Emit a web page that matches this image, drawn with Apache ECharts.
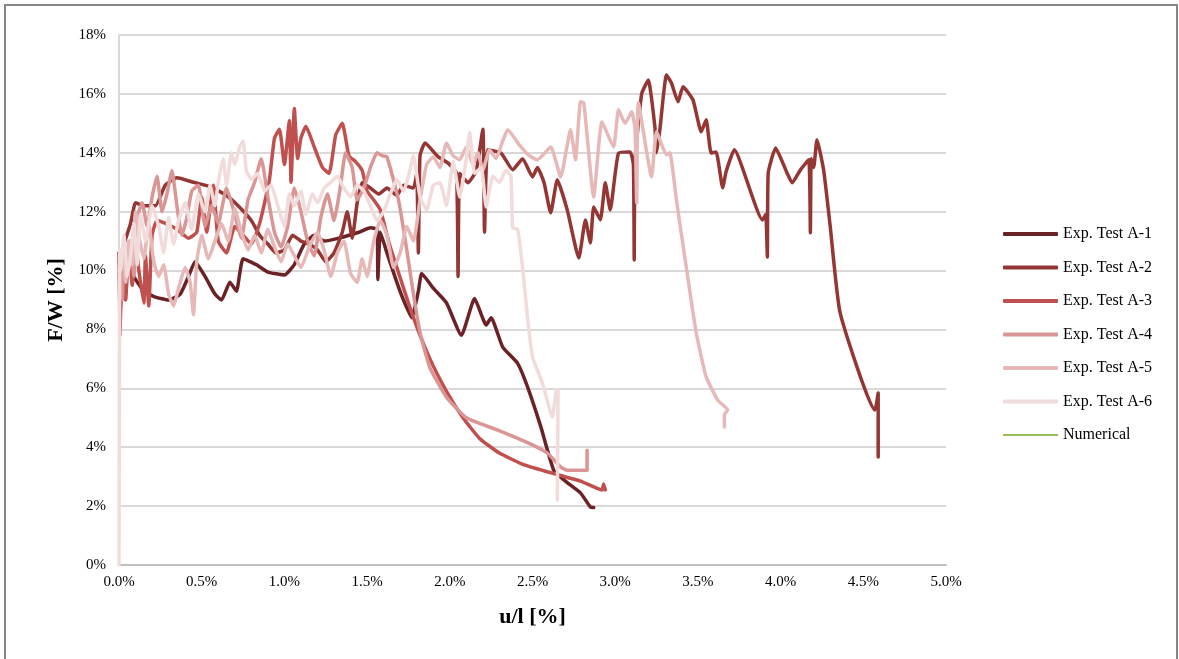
<!DOCTYPE html>
<html>
<head>
<meta charset="utf-8">
<script src="https://cdn.jsdelivr.net/npm/echarts@6/dist/echarts.min.js"></script>
<style>
html, body { margin: 0; padding: 0; background: #fff; }
#main { width: 1179px; height: 659px; }
</style>
</head>
<body>
<div id="main"></div>
<script>
// u/l [%] , F/W [%] pairs
var seriesNames = ['Exp. Test A-1', 'Exp. Test A-2', 'Exp. Test A-3', 'Exp. Test A-4', 'Exp. Test A-5', 'Exp. Test A-6', 'Numerical'];

var testA1 = [[0,10.6],[0.02,10.1],[0.05,10.4],[0.09,9.8],[0.15,9.3],[0.22,9.1],[0.3,9.0],[0.37,9.2],[0.42,9.8],[0.46,10.3],[0.52,9.8],[0.58,9.2],[0.62,9.0],[0.67,9.6],[0.71,9.3],[0.75,10.4],[0.83,10.2],[0.9,9.95],[1.0,9.85],[1.06,10.2],[1.12,10.9],[1.18,11.2],[1.24,11.0],[1.33,11.1],[1.45,11.3],[1.52,11.45],[1.56,11.4],[1.565,9.7],[1.58,11.3],[1.62,10.6],[1.68,9.6],[1.72,9.0],[1.77,8.4],[1.81,9.3],[1.83,9.9],[1.9,9.4],[1.98,8.9],[2.07,7.8],[2.15,9.05],[2.22,8.15],[2.25,8.4],[2.32,7.4],[2.41,6.85],[2.47,6.05],[2.55,4.7],[2.63,3.2],[2.71,2.8],[2.79,2.45],[2.85,1.97],[2.87,1.95]];

var testA2 = [[0,10.3],[0.03,10.9],[0.07,11.6],[0.1,12.3],[0.15,12.2],[0.22,12.2],[0.28,12.9],[0.35,13.15],[0.45,13.0],[0.55,12.85],[0.65,12.55],[0.72,12.2],[0.8,11.7],[0.85,11.2],[0.9,10.9],[0.95,10.6],[1.0,10.7],[1.05,11.2],[1.1,11.0],[1.15,10.9],[1.2,10.7],[1.25,10.3],[1.3,10.6],[1.35,11.3],[1.38,12.0],[1.41,11.1],[1.44,12.3],[1.47,12.98],[1.52,12.8],[1.57,12.6],[1.62,12.8],[1.68,12.55],[1.72,12.9],[1.78,12.8],[1.8,13.3],[1.81,10.6],[1.82,13.9],[1.85,14.33],[1.93,13.86],[1.99,13.65],[2.04,13.3],[2.05,9.8],[2.06,13.3],[2.11,12.98],[2.16,13.4],[2.2,14.8],[2.21,11.3],[2.23,14.1],[2.31,13.99],[2.38,13.42],[2.44,13.8],[2.5,13.18],[2.53,13.5],[2.57,12.98],[2.61,11.96],[2.65,13.08],[2.71,12.06],[2.78,10.43],[2.82,11.72],[2.85,10.94],[2.87,12.16],[2.91,11.72],[2.94,12.98],[2.97,12.06],[3.02,13.99],[3.09,14.03],[3.11,13.6],[3.115,10.36],[3.12,13.7],[3.16,16.0],[3.2,16.47],[3.24,14.88],[3.25,14.0],[3.27,14.78],[3.31,16.64],[3.34,16.37],[3.38,15.73],[3.41,16.24],[3.47,15.8],[3.52,14.71],[3.55,15.12],[3.58,13.99],[3.61,14.03],[3.65,12.81],[3.67,13.35],[3.72,14.1],[3.89,11.72],[3.91,11.9],[3.92,10.46],[3.925,13.3],[3.97,14.16],[4.04,13.3],[4.07,12.98],[4.12,13.42],[4.17,13.76],[4.18,11.28],[4.185,13.8],[4.2,13.5],[4.22,14.44],[4.26,13.42],[4.3,11.5],[4.36,8.56],[4.57,5.26],[4.59,5.84],[4.59,3.67]];

var testA3 = [[0,10.5],[0.005,7.8],[0.01,8.6],[0.025,10.2],[0.04,9.0],[0.06,10.8],[0.08,9.5],[0.1,11.0],[0.12,10.0],[0.15,8.9],[0.16,10.5],[0.18,8.8],[0.2,11.2],[0.23,11.7],[0.28,11.6],[0.35,11.4],[0.42,11.1],[0.47,11.3],[0.5,12.5],[0.53,11.3],[0.57,12.9],[0.6,11.0],[0.65,10.6],[0.7,11.5],[0.75,11.2],[0.8,10.9],[0.85,11.6],[0.88,12.3],[0.91,13.1],[0.94,14.5],[0.97,14.8],[1.0,13.6],[1.03,15.1],[1.04,13.0],[1.06,15.5],[1.08,13.8],[1.1,14.5],[1.13,14.9],[1.18,14.2],[1.23,13.5],[1.27,13.3],[1.31,14.6],[1.35,15.0],[1.39,13.9],[1.43,13.7],[1.47,13.4],[1.5,12.7],[1.54,12.4],[1.58,12.06],[1.63,11.0],[1.68,10.1],[1.78,8.4],[1.88,7.0],[1.98,5.9],[2.08,5.0],[2.18,4.3],[2.3,3.8],[2.45,3.4],[2.6,3.15],[2.79,2.85],[2.92,2.55],[2.93,2.75],[2.94,2.55]];

var testA4 = [[0,10.4],[0.02,9.0],[0.03,10.8],[0.05,10.0],[0.07,11.0],[0.09,9.8],[0.11,11.8],[0.14,12.3],[0.17,11.5],[0.2,12.5],[0.23,13.2],[0.26,12.0],[0.29,12.6],[0.32,13.4],[0.35,12.2],[0.38,11.2],[0.41,11.8],[0.44,12.7],[0.48,12.9],[0.52,11.5],[0.56,12.2],[0.6,11.6],[0.65,12.8],[0.7,11.9],[0.74,11.1],[0.78,12.4],[0.82,13.0],[0.86,13.8],[0.9,12.5],[0.94,11.3],[0.98,10.8],[1.02,11.5],[1.06,12.8],[1.1,12.0],[1.14,11.0],[1.18,10.5],[1.22,11.8],[1.26,12.6],[1.3,11.7],[1.34,12.9],[1.37,14.0],[1.41,13.5],[1.44,12.4],[1.48,12.8],[1.52,13.5],[1.56,14.0],[1.59,13.9],[1.62,13.86],[1.69,12.4],[1.74,10.7],[1.78,9.2],[1.82,7.9],[1.88,6.7],[1.98,5.7],[2.1,5.0],[2.29,4.58],[2.48,4.13],[2.59,3.8],[2.67,3.33],[2.71,3.22],[2.83,3.22],[2.83,3.9]];

var testA5 = [[0,10.0],[0.02,10.8],[0.04,9.6],[0.06,11.0],[0.08,10.2],[0.1,12.0],[0.12,11.2],[0.15,10.4],[0.18,11.6],[0.21,10.3],[0.24,9.8],[0.27,10.2],[0.3,9.2],[0.33,8.8],[0.36,9.4],[0.4,10.1],[0.43,9.6],[0.45,8.5],[0.47,10.3],[0.5,11.2],[0.54,10.4],[0.58,11.0],[0.62,11.6],[0.66,11.0],[0.7,12.1],[0.74,11.3],[0.78,10.7],[0.82,11.2],[0.86,10.6],[0.9,11.4],[0.94,10.8],[0.98,10.3],[1.02,10.9],[1.06,10.5],[1.1,10.1],[1.15,10.8],[1.2,11.3],[1.24,10.7],[1.28,9.8],[1.32,10.6],[1.36,11.0],[1.4,9.9],[1.44,9.6],[1.47,10.4],[1.5,9.8],[1.54,11.0],[1.58,11.7],[1.62,11.2],[1.66,10.1],[1.7,10.6],[1.74,11.5],[1.78,11.0],[1.82,12.4],[1.86,13.6],[1.9,13.86],[1.94,13.5],[1.98,14.33],[2.02,13.9],[2.06,13.76],[2.1,14.2],[2.14,13.6],[2.17,14.0],[2.2,13.4],[2.24,14.1],[2.28,13.8],[2.32,14.4],[2.35,14.78],[2.42,14.27],[2.48,13.9],[2.53,13.76],[2.61,14.2],[2.67,13.18],[2.73,14.78],[2.76,13.76],[2.79,15.73],[2.81,15.7],[2.87,12.5],[2.92,15.05],[2.99,14.2],[3.02,15.46],[3.06,15.0],[3.1,15.39],[3.12,14.8],[3.13,12.3],[3.14,15.7],[3.22,13.18],[3.25,14.71],[3.31,13.93],[3.33,14.0],[3.37,12.4],[3.43,10.1],[3.49,7.88],[3.55,6.39],[3.62,5.6],[3.68,5.26],[3.66,5.1],[3.66,4.69]];

var testA6 = [[0,0],[0.002,5.0],[0.005,10.7],[0.01,10.0],[0.03,11.2],[0.05,9.8],[0.07,10.5],[0.09,11.6],[0.11,10.2],[0.13,11.9],[0.16,11.0],[0.2,12.2],[0.24,11.5],[0.27,10.6],[0.3,11.8],[0.33,10.9],[0.36,11.7],[0.4,12.3],[0.44,11.4],[0.48,12.6],[0.52,12.0],[0.55,12.9],[0.58,12.2],[0.6,13.0],[0.63,13.8],[0.65,12.9],[0.68,14.0],[0.7,13.6],[0.73,14.2],[0.75,14.4],[0.77,13.4],[0.8,13.1],[0.84,13.3],[0.88,12.7],[0.92,12.9],[0.96,12.2],[1.0,11.5],[1.03,12.6],[1.06,12.2],[1.1,12.7],[1.13,11.9],[1.17,12.6],[1.2,12.3],[1.24,12.8],[1.28,13.0],[1.32,13.2],[1.36,12.8],[1.4,12.5],[1.44,12.9],[1.48,12.7],[1.52,12.2],[1.56,11.7],[1.6,12.0],[1.64,12.6],[1.68,13.1],[1.72,12.7],[1.75,13.2],[1.78,13.9],[1.82,12.5],[1.86,12.06],[1.9,12.9],[1.94,12.98],[1.98,12.2],[2.02,13.7],[2.06,12.5],[2.1,13.8],[2.12,14.7],[2.15,13.3],[2.19,13.5],[2.22,12.16],[2.26,13.2],[2.3,13.0],[2.34,13.4],[2.37,13.2],[2.38,11.45],[2.41,11.4],[2.44,10.1],[2.47,8.4],[2.5,7.07],[2.56,6.18],[2.62,5.03],[2.645,5.94],[2.655,5.94],[2.65,2.2]];

var numerical = [];

var seriesData = [testA1, testA2, testA3, testA4, testA5, testA6, numerical];
var seriesColors = ['#6b2226', '#943634', '#c0504d', '#d99694', '#e6b9b8', '#f2dcdb', '#9bbb59'];

var xTicks = { min: 0, max: 5, interval: 0.5 };
var yTicks = { min: 0, max: 18, interval: 2 };

var font = 'Liberation Serif';

var series = [];
for (var i = 0; i < seriesNames.length; i++) {
	series.push({
		name: seriesNames[i],
		type: 'line',
		data: seriesData[i],
		showSymbol: false,
		symbol: 'none',
		smooth: 0.15,
		color: seriesColors[i],
		lineStyle: { width: i == 6 ? 2 : 3.5, color: seriesColors[i], cap: 'round', join: 'round' },
		emphasis: { disabled: true }
	});
}

var legendData = [];
for (var j = 0; j < seriesNames.length; j++) {
	legendData.push({
		name: seriesNames[j],
		icon: j == 6 ? 'path://M0,0h55v2h-55z' : 'roundRect'
	});
}

var chart = echarts.init(document.getElementById('main'));
chart.setOption({
	animation: false,
	backgroundColor: '#fff',
	graphic: [{
		type: 'rect',
		silent: true,
		z: -10,
		shape: { x: 5, y: 5, width: 1172, height: 700 },
		style: { fill: null, stroke: '#878787', lineWidth: 2 }
	}],
	grid: { left: 119, right: 233, top: 35, bottom: 94 },
	legend: {
		orient: 'vertical',
		left: 1003,
		top: 226,
		padding: 0,
		itemWidth: 55,
		itemHeight: 4,
		itemGap: 17.5,
		data: legendData,
		textStyle: { fontFamily: font, fontSize: 16, color: '#000' }
	},
	xAxis: {
		type: 'value',
		min: xTicks.min,
		max: xTicks.max,
		interval: xTicks.interval,
		name: 'u/l [%]',
		nameLocation: 'middle',
		nameGap: 41,
		nameTextStyle: { fontFamily: font, fontSize: 22, fontWeight: 'bold', color: '#000' },
		axisLine: { show: true, lineStyle: { color: '#bfbfbf', width: 2 } },
		axisTick: { show: false },
		splitLine: { show: false },
		axisLabel: {
			margin: 10,
			fontFamily: font, fontSize: 15, color: '#000',
			formatter: function(v) { return v.toFixed(1) + '%'; }
		}
	},
	yAxis: {
		type: 'value',
		min: yTicks.min,
		max: yTicks.max,
		interval: yTicks.interval,
		name: 'F/W [%]',
		nameLocation: 'middle',
		nameGap: 52,
		nameTextStyle: { fontFamily: font, fontSize: 22, fontWeight: 'bold', color: '#000' },
		axisLine: { show: true, lineStyle: { color: '#d9d9d9', width: 2 } },
		axisTick: { show: false },
		splitLine: { show: true, lineStyle: { color: '#d9d9d9', width: 2 } },
		axisLabel: {
			margin: 13,
			fontFamily: font, fontSize: 15, color: '#000',
			formatter: function(v) { return v + '%'; }
		}
	},
	series: series
});
</script>
</body>
</html>
